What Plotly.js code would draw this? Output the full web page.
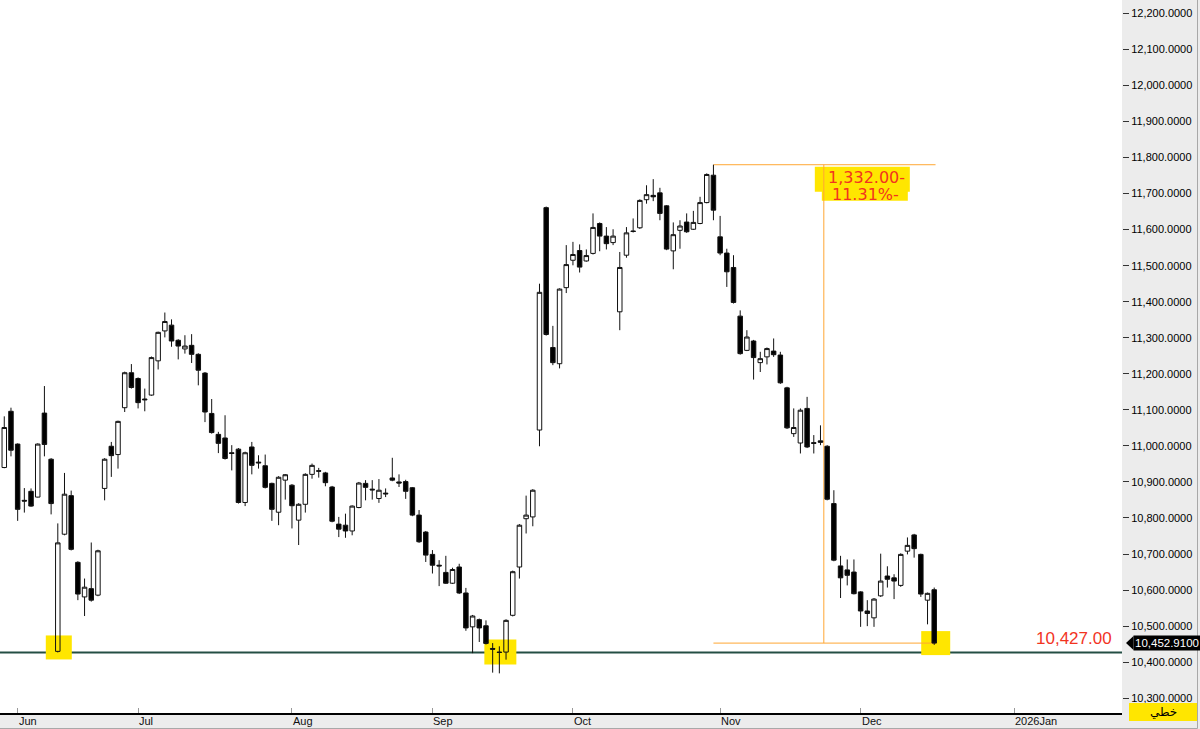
<!DOCTYPE html>
<html><head><meta charset="utf-8">
<script src="https://cdn.plot.ly/plotly-3.0.1.min.js"></script>
<style>html,body{margin:0;padding:0;background:#fff}#chart{width:1200px;height:729px}</style>
</head><body><div id="chart"></div>
<script>
const opens = [10940,11096,11005,10849,10874,10858,11091,10963,10430,10755,
10862,10677,10581,10604,10586,10882,10999,10976,11106,11203,
11187,11130,11141,11236,11319,11335,11293,11269,11279,11254,
11202,11090,11032,11022,10981,10991,10843,10997,10955,10945,
10896,10816,10905,10891,10794,10838,10921,10931,10925,10886,
10783,10780,10764,10829,10896,10880,10854,10869,10911,10900,
10901,10884,10808,10761,10699,10669,10649,10619,10664,10592,
10498,10518,10501,10438,10428,10428,10530,10664,10798,10803,
11044,11661,11273,11228,11439,11515,11542,11513,11534,11617,
11582,11564,11372,11529,11596,11605,11683,11695,11702,11666,
11541,11598,11621,11601,11617,11675,11751,11580,11535,11495,
11360,11265,11291,11231,11247,11263,11252,11161,11034,11008,
11104,11009,11014,10999,10840,10667,10656,10650,10595,10542,
10523,10584,10639,10634,10613,10708,10753,10699,10572,10601];
const highs = [11082,11106,11007,10883,10882,11007,11166,10966,10785,10925,
10876,10680,10632,10732,10712,10966,11011,11070,11206,11227,
11190,11159,11248,11317,11370,11351,11296,11307,11310,11257,
11205,11130,11039,11085,11002,10994,10984,11011,10974,10976,
10898,10916,10922,10894,10841,10924,10951,10939,10928,10889,
10803,10812,10835,10900,10905,10905,10908,10882,10967,10921,
10906,10886,10822,10764,10711,10683,10695,10662,10673,10606,
10531,10521,10516,10453,10444,10519,10654,10783,10862,10880,
11450,11664,11333,11437,11557,11566,11559,11545,11645,11620,
11607,11601,11538,11607,11631,11684,11723,11740,11716,11668,
11620,11626,11645,11652,11691,11756,11780,11638,11547,11529,
11376,11321,11294,11261,11273,11298,11261,11164,11104,11104,
11136,11030,11057,11002,10877,10695,10685,10685,10597,10572,
10578,10701,10666,10644,10702,10746,10756,10701,10593,10607];
const lows = [10938,10971,10792,10815,10831,10857,10971,10810,10427,10752,
10710,10572,10528,10568,10583,10849,10914,10937,11094,11159,
11104,11096,11139,11212,11301,11275,11240,11256,11230,11168,
11066,11034,10980,10962,10932,10840,10833,10921,10937,10882,
10792,10780,10851,10771,10725,10815,10909,10912,10888,10788,
10747,10745,10752,10827,10849,10851,10842,10858,10902,10886,
10853,10805,10731,10678,10646,10611,10617,10617,10589,10487,
10425,10456,10449,10371,10369,10407,10527,10632,10757,10777,
10999,11306,11224,11215,11424,11501,11481,11511,11531,11540,
11545,11557,11321,11522,11592,11602,11672,11679,11626,11543,
11490,11547,11591,11599,11615,11673,11626,11529,11441,11395,
11253,11263,11184,11205,11226,11247,11172,11047,11025,10979,
10994,10979,11002,10849,10680,10578,10613,10588,10498,10500,
10498,10581,10607,10575,10609,10699,10690,10581,10505,10448];
const closes = [11051,10988,10824,10847,10833,11005,11004,10840,10731,10866,
10713,10589,10608,10572,10709,10963,10973,11068,11203,11162,
11120,11128,11245,11315,11345,11291,11277,11277,11254,11210,
11094,11037,11007,10965,10979,10843,10981,10946,10953,10885,
10824,10913,10920,10834,10838,10921,10946,10930,10898,10791,
10769,10764,10833,10897,10885,10878,10877,10867,10905,10897,
10874,10808,10734,10697,10669,10667,10619,10657,10592,10495,
10528,10495,10452,10436,10427,10516,10651,10780,10808,10877,
11426,11309,11231,11435,11503,11531,11496,11528,11606,11582,
11561,11582,11495,11591,11595,11681,11697,11691,11645,11546,
11586,11610,11594,11620,11675,11753,11654,11535,11483,11398,
11256,11302,11245,11242,11270,11253,11175,11050,11051,11099,
10997,11007,11010,10852,10683,10634,10641,10590,10542,10535,
10575,10625,10630,10625,10699,10724,10715,10589,10591,10452.91];

const monthLabels = ['Jun','Jul','Aug','Sep','Oct','Nov','Dec','2026Jan'];
const monthIdx = [2,20,43,64,85,107,128,151];
const supportLevel = 10427;
const supportText = '10,427.00';
const measureText = ['1,332.00-','11.31%-'];
const priceLabel = '10,452.9100';
const toolLabel = 'خطي';

const idx = closes.map((_, i) => i);
const iMax = highs.indexOf(Math.max(...highs));
const iEnd = closes.length - 1;
const topVal = highs[iMax];
const lastVal = closes[iEnd];
const iMid = (iMax + iEnd) / 2;

const PW = 1122, PH = 713;
const px = v => v / PW;
const py = v => (PH - v) / PH;

const YEL = '#ffe600';
const ORG = '#ffa733';
const RED = '#f2341f';

const trace = {
  type: 'candlestick',
  x: idx, open: opens, high: highs, low: lows, close: closes,
  increasing: {line: {color: '#111', width: 1}, fillcolor: 'rgba(255,255,255,0)'},
  decreasing: {line: {color: '#111', width: 1}, fillcolor: '#000'},
  whiskerwidth: 0,
  hoverinfo: 'skip'
};

function hl(ax, ay, x0, x1, y0, y1) {
  return {type: 'rect', layer: 'below', xref: 'x', yref: 'y', xsizemode: 'pixel', ysizemode: 'pixel',
    xanchor: ax, yanchor: ay, x0: x0, x1: x1, y0: y0, y1: y1,
    fillcolor: YEL, line: {width: 0}};
}

const shapes = [
  hl(8, lows[8], -12, 14, 17, -7),
  hl(74, supportLevel, -15, 17, 13, -12),
  hl(iEnd, lastVal, -13, 16, 12, -12),
  // yellow label boxes of the measure
  {type: 'rect', layer: 'below', xref: 'x', yref: 'y', xsizemode: 'pixel', ysizemode: 'pixel',
   xanchor: iMid, yanchor: topVal, x0: -9, x1: 86, y0: -2, y1: -27, fillcolor: YEL, line: {width: 0}},
  {type: 'rect', layer: 'below', xref: 'x', yref: 'y', xsizemode: 'pixel', ysizemode: 'pixel',
   xanchor: iMid, yanchor: topVal, x0: -2, x1: 84, y0: -20, y1: -36, fillcolor: YEL, line: {width: 0}},
  // support line
  {type: 'line', layer: 'below', xref: 'paper', yref: 'y', x0: 0, x1: 1, y0: supportLevel, y1: supportLevel,
   line: {color: '#244f44', width: 2}},
  // measure lines
  {type: 'line', layer: 'below', xref: 'x', yref: 'y', x0: iMax, x1: iEnd + 0.2, y0: topVal, y1: topVal, line: {color: ORG, width: 1}},
  {type: 'line', layer: 'below', xref: 'x', yref: 'y', x0: iMax, x1: iEnd + 0.2, y0: lastVal, y1: lastVal, line: {color: ORG, width: 1}},
  {type: 'line', layer: 'below', xref: 'x', yref: 'y', x0: iMid, x1: iMid, y0: topVal, y1: lastVal, line: {color: ORG, width: 1}},
  // price tag arrow
  {type: 'path', xref: 'paper', yref: 'y', xsizemode: 'pixel', ysizemode: 'pixel',
   xanchor: px(1133), yanchor: lastVal, path: 'M 0.5,7 L -7,0 L 0.5,-7 Z', fillcolor: '#000', line: {width: 0}},
  // tool label box
  {type: 'rect', xref: 'paper', yref: 'paper', x0: px(1129), x1: px(1197), y0: py(703), y1: py(721),
   fillcolor: YEL, line: {width: 0}},
  // panel edges
  {type: 'line', xref: 'paper', yref: 'paper', x0: px(1197.5), x1: px(1197.5), y0: py(728.5), y1: 1, line: {color: '#a8a8a8', width: 1}},
  {type: 'line', xref: 'paper', yref: 'paper', x0: 0, x1: px(1197.5), y0: py(728.5), y1: py(728.5), line: {color: '#a8a8a8', width: 1}}
];

const annotations = [
  {xref: 'paper', yref: 'y', x: px(1114), y: supportLevel, xanchor: 'right', yanchor: 'bottom', yshift: 2,
   text: supportText, showarrow: false, font: {family: 'Liberation Sans, Arial', size: 17, color: RED}},
  {xref: 'x', yref: 'y', x: iMid, y: topVal, xanchor: 'left', yanchor: 'top', xshift: 2, yshift: -1,
   text: measureText[0], showarrow: false, font: {family: 'DejaVu Sans', size: 16, color: RED}},
  {xref: 'x', yref: 'y', x: iMid, y: topVal, xanchor: 'left', yanchor: 'top', xshift: 6, yshift: -18,
   text: measureText[1], showarrow: false, font: {family: 'DejaVu Sans', size: 16, color: RED}},
  {xref: 'paper', yref: 'y', x: px(1133), y: lastVal, xanchor: 'left', yanchor: 'middle',
   text: priceLabel, showarrow: false, bgcolor: '#000', borderpad: 1,
   font: {family: 'Liberation Sans, Arial', size: 11.5, color: '#fff'}},
  {xref: 'paper', yref: 'paper', x: px(1163), y: py(712), xanchor: 'center', yanchor: 'middle',
   text: toolLabel, showarrow: false, font: {family: 'DejaVu Sans', size: 12, color: '#000'}}
];
monthLabels.forEach((m, k) => annotations.push({
  xref: 'x', yref: 'paper', x: monthIdx[k], y: 0, xanchor: 'left', yanchor: 'top', xshift: -1, yshift: 0,
  text: m, showarrow: false, font: {family: 'Liberation Sans, Arial', size: 11, color: '#111'}
}));

const layout = {
  width: 1200, height: 729,
  margin: {l: 0, r: 78, t: 0, b: 16, pad: 0},
  paper_bgcolor: '#ececec', plot_bgcolor: '#ffffff',
  showlegend: false,
  boxgap: 0.33, boxgroupgap: 0,
  xaxis: {
    type: 'linear', range: [-0.64, 167.07], fixedrange: true,
    rangeslider: {visible: false},
    showgrid: false, zeroline: false, showticklabels: false,
    tickmode: 'array', tickvals: monthIdx, ticks: 'inside', ticklen: 5, tickcolor: '#999', tickwidth: 1,
    showline: true, linecolor: '#000', linewidth: 1.5
  },
  yaxis: {
    side: 'right', range: [10259, 12237], fixedrange: true,
    showgrid: false, zeroline: false, showline: false,
    tick0: 10300, dtick: 100, tickformat: ',.4f',
    ticks: 'outside', ticklen: 6, tickcolor: '#333', tickwidth: 1,
    tickfont: {family: 'Liberation Sans, Arial', size: 11, color: '#000'}
  },
  shapes: shapes,
  annotations: annotations
};

Plotly.newPlot('chart', [trace], layout, {displayModeBar: false, staticPlot: true});
</script>
</body></html>
